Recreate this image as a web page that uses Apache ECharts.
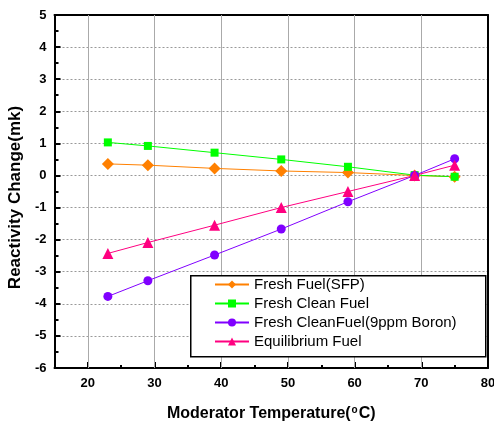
<!DOCTYPE html>
<html>
<head>
<meta charset="utf-8">
<script src="https://cdn.jsdelivr.net/npm/echarts@6/dist/echarts.min.js"></script>
<style>html,body{margin:0;padding:0;background:#fff;}#c{width:494px;height:424px;}</style>
</head>
<body>
<div id="c"></div>
<script>
var temps = [23, 29, 39, 49, 59, 69, 75];
var freshSFP = [0.36, 0.32, 0.22, 0.14, 0.09, 0.0, -0.04];
var freshClean = [1.03, 0.92, 0.71, 0.50, 0.27, 0.01, -0.04];
var freshBoron = [-3.77, -3.28, -2.48, -1.67, -0.82, 0.0, 0.52];
var equilibrium = [-2.43, -2.09, -1.55, -1.0, -0.50, 0.0, 0.32];
var seriesNames = ['Fresh Fuel(SFP)', 'Fresh Clean Fuel', 'Fresh CleanFuel(9ppm Boron)', 'Equilibrium Fuel'];
var xTicks = [20, 30, 40, 50, 60, 70, 80];
var yTicks = [-6, -5, -4, -3, -2, -1, 0, 1, 2, 3, 4, 5];

function pairs(vals) { return temps.map(function (t, i) { return [t, vals[i]]; }); }

var FONT = '"Liberation Sans", Arial, sans-serif';
var chart = echarts.init(document.getElementById('c'), null, {renderer: 'canvas'});

function mkSeries(name, vals, color, symbol, size) {
  return {
    name: name, type: 'line', data: pairs(vals),
    symbol: symbol, symbolSize: size,
    lineStyle: {color: color, width: 1},
    itemStyle: {color: color},
    emphasis: {disabled: true},
    animation: false, z: 3
  };
}

var series = [
  mkSeries(seriesNames[0], freshSFP, '#FF8000', 'diamond', 12),
  mkSeries(seriesNames[1], freshClean, '#00FF00', 'rect', 8),
  mkSeries(seriesNames[2], freshBoron, '#8000FF', 'circle', 9),
  mkSeries(seriesNames[3], equilibrium, '#FF0080', 'triangle', 11)
];
// vertical grid lines at labelled x values (inside the plot)
series[0].markLine = {
  silent: true, symbol: 'none', animation: false, z: 1,
  label: {show: false},
  lineStyle: {color: '#aaa', width: 1, type: 'solid'},
  data: xTicks.filter(function (v) { return v < 80; }).map(function (v) { return {xAxis: v}; })
};

var option = {
  animation: false,
  grid: {left: 54.5, right: 6, top: 15, bottom: 56, containLabel: false, outerBoundsMode: 'none'},
  xAxis: [{
    type: 'value', min: 15, max: 80, interval: 5,
    axisLine: {onZero: false, lineStyle: {color: '#000', width: 2}},
    axisTick: {inside: true, length: 3, lineStyle: {color: '#000', width: 2}},
    axisLabel: {
      color: '#000', fontWeight: 'bold', fontSize: 13, fontFamily: FONT, margin: 9,
      formatter: function (v) { return xTicks.indexOf(v) >= 0 ? String(v) : ''; }
    },
    splitLine: {show: false},
    name: '{a|Moderator Temperature(}{s|o}{a|C)}',
    nameLocation: 'middle', nameGap: 37,
    nameTextStyle: {
      rich: {
        a: {fontSize: 16, fontWeight: 'bold', fontFamily: FONT, color: '#000'},
        s: {fontSize: 10, fontWeight: 'bold', fontFamily: FONT, color: '#000', verticalAlign: 'top', padding: [0, 1, 8, 1]}
      }
    }
  }, {
    type: 'value', min: 15, max: 80, interval: 5, position: 'top',
    axisLine: {onZero: false, lineStyle: {color: '#000', width: 2}},
    axisTick: {show: false},
    axisLabel: {show: false},
    splitLine: {show: false}
  }, {
    type: 'value', min: 15, max: 80, position: 'bottom',
    axisLine: {show: false, onZero: false},
    axisTick: {show: true, inside: true, length: 6, customValues: xTicks, lineStyle: {color: '#000', width: 2}},
    axisLabel: {show: false},
    splitLine: {show: false}
  }],
  yAxis: [{
    type: 'value', min: -6, max: 5, interval: 1,
    axisLine: {onZero: false, lineStyle: {color: '#000', width: 2}},
    axisTick: {inside: true, length: 6, lineStyle: {color: '#000', width: 2}},
    minorTick: {show: true, splitNumber: 2, length: 4, lineStyle: {color: '#000', width: 2}},
    axisLabel: {color: '#000', fontWeight: 'bold', fontSize: 13, fontFamily: FONT, margin: 8},
    splitLine: {show: true, lineStyle: {color: '#999', width: 1, type: [2, 2]}},
    name: 'Reactivity Change(mk)',
    nameLocation: 'middle', nameGap: 27,
    nameTextStyle: {fontSize: 17, fontWeight: 'bold', fontFamily: FONT, color: '#000', padding: [0, 12, 0, 0]}
  }, {
    type: 'value', min: -6, max: 5, interval: 1, position: 'right',
    axisLine: {show: true, onZero: false, lineStyle: {color: '#000', width: 2}},
    axisTick: {show: false},
    axisLabel: {show: false},
    splitLine: {show: false}
  }],
  legend: {
    orient: 'vertical', left: 214, top: 277,
    itemWidth: 34, itemHeight: 10, itemGap: 4,
    padding: 0,
    textStyle: {fontSize: 15, fontFamily: FONT, color: '#000'},
    data: seriesNames
  },
  graphic: [{
    type: 'rect', left: 190, top: 275, z: 2,
    shape: {width: 295, height: 81},
    style: {fill: '#fff', stroke: '#000', lineWidth: 1.5}
  }],
  series: series
};
chart.setOption(option);
</script>
</body>
</html>
